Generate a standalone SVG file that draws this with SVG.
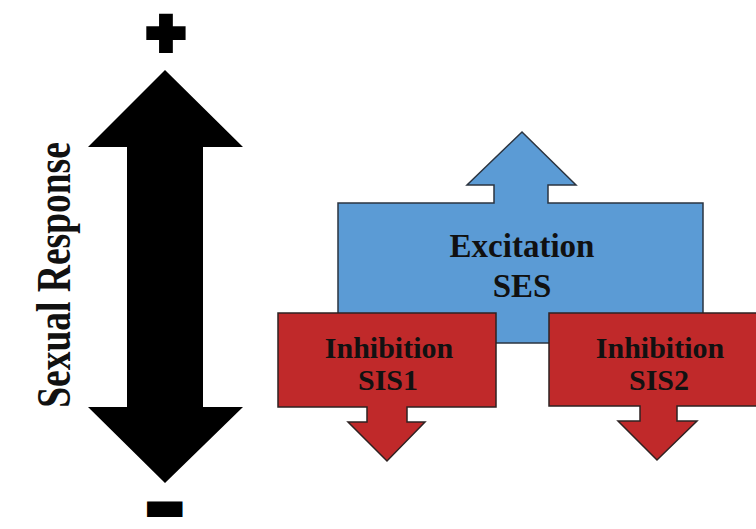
<svg xmlns="http://www.w3.org/2000/svg" width="756" height="529" viewBox="0 0 756 529">
<style>
.lbl{font-family:"Liberation Serif","Times New Roman",serif;font-weight:bold;fill:#111;text-anchor:middle}
.blue{fill:#5B9BD5;stroke:#2b3440;stroke-width:1.5}
.red{fill:#C0292A;stroke:#2e2222;stroke-width:1.5}
.sym{font-weight:bold;fill:#000;stroke:#000;text-anchor:middle}
</style>
<rect width="756" height="529" fill="#fff"/>
<g id="axis">
<polygon points="165,70 243,147 203,147 203,407 243,407 165,483 88,407 127,407 127,147 88,147" fill="#000"/>
<text class="sym" x="166" y="49" font-size="50" stroke-width="8" font-family="'DejaVu Sans',sans-serif">+</text>
<text class="sym" transform="translate(165,518.5) scale(1.31,1)" font-size="30" stroke-width="12" font-family="'Liberation Sans',Arial,sans-serif">−</text>
<text class="lbl" transform="translate(70,275) rotate(-90) scale(1,1.29)" font-size="37.5">Sexual Response</text>
</g>
<g id="excitation">
<polygon class="blue" points="338,203 494,203 494,185 467,185 522,132 576,185 548,185 548,203 703,203 703,343 338,343"/>
<text class="lbl" x="522" y="257" font-size="33">Excitation</text>
<text class="lbl" x="522" y="297" font-size="33">SES</text>
</g>
<g id="inhibition1">
<polygon class="red" points="278,313 496,313 496,407 407,407 407,422 425,422 387,461 348,422 367,422 367,407 278,407"/>
<text class="lbl" x="389" y="358" font-size="30">Inhibition</text>
<text class="lbl" x="388" y="390" font-size="30">SIS1</text>
</g>
<g id="inhibition2">
<polygon class="red" points="760,313 549,313 549,406 640,406 640,421 618,421 657,460 697,421 677,421 677,406 760,406"/>
<text class="lbl" x="660" y="358" font-size="30">Inhibition</text>
<text class="lbl" x="659" y="390" font-size="30">SIS2</text>
</g>
<g id="connectors"></g>
</svg>
